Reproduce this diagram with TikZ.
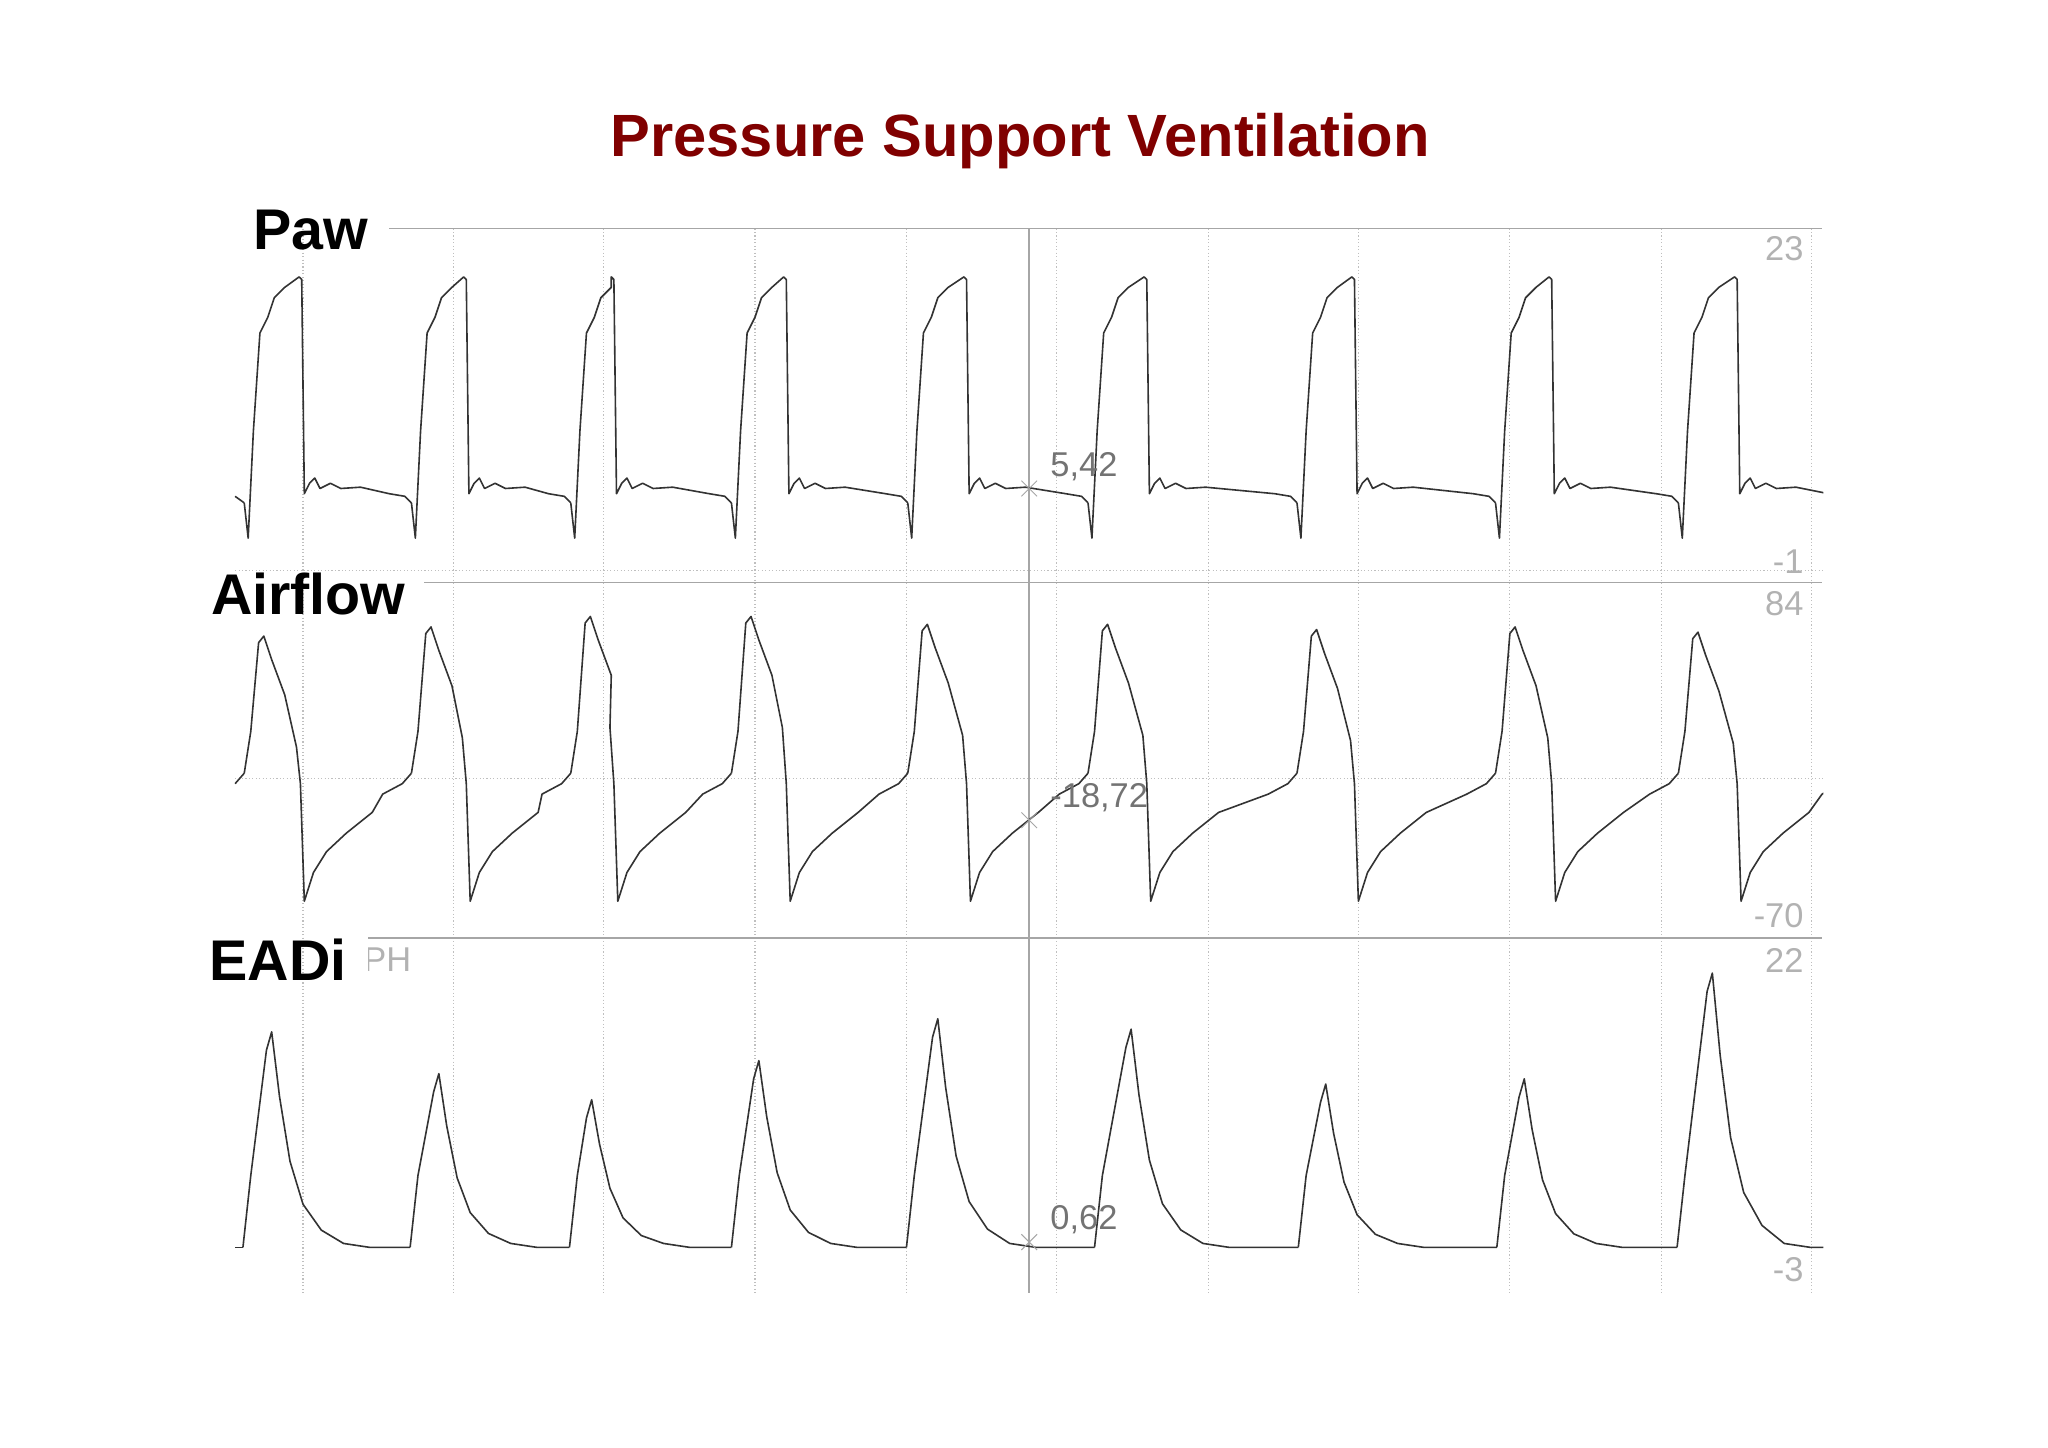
\documentclass[tikz,border=0pt]{standalone}
\usepackage{fontspec}
\setmainfont{Liberation Sans}
\begin{document}
\begin{tikzpicture}[x=0.02cm,y=-0.02cm,
  wave/.style={line width=0.7pt,black!80,line join=round},
  grid/.style={gray!50,densely dotted,line width=0.5pt},
  axis/.style={gray!70,line width=0.8pt},
  scal/.style={text=gray!60,font=\fontsize{15}{15}\selectfont},
  lab/.style={font=\fontsize{25}{25}\selectfont\bfseries},
  cur/.style={text=gray!90!black,font=\fontsize{15}{15}\selectfont}]
\useasboundingbox (0,0) rectangle (1568,1108);
\node[font=\fontsize{26}{26}\selectfont\bfseries,text={rgb,255:red,128;green,0;blue,0}] (title) at (781,108) {Pressure Support Ventilation};
% grid
\foreach \x in {232,347,462,578,694,809,925,1040,1156,1272,1387}
  \draw[grid] (\x,175) -- (\x,990);
\draw[grid] (180,437) -- (1395,437);
\draw[grid] (180,596) -- (1395,596);
\draw[axis] (298,175) -- (1395,175);
\draw[axis] (325,446) -- (1395,446);
\draw[axis] (282,718) -- (1395,718);
\draw[axis] (788,175) -- (788,990);
\node[lab] (paw) at (238,176) {Paw};
\node[lab] (air) at (236,455) {Airflow};
\begin{scope}
\clip (282,700) rectangle (330,760);
\node[scal,anchor=west] (ph) at (272,735) {PH};
\end{scope}
\node[lab] (eadi) at (213,735) {EADi};
\node[scal,anchor=east] (s1) at (1387,190) {23};
\node[scal,anchor=east] (s2) at (1387,430) {-1};
\node[scal,anchor=east] (s3) at (1387,462) {84};
\node[scal,anchor=east] (s4) at (1387,701) {-70};
\node[scal,anchor=east] (s5) at (1387,735) {22};
\node[scal,anchor=east] (s6) at (1387,972) {-3};
\begin{scope}
\clip (179,150) rectangle (1396,1000);
% Paw
\draw[wave] (180,380) -- (187,385);
\foreach \o/\e/\n in {190/231/318,318/357/440,440/470/563,563/602/698,698/740/836,836/878/996,996/1037/1148,1148/1188/1288,1288/1330/1420}
  \draw[wave] (\o-3,385) -- (\o,412) -- (\o+4,330) -- (\o+9,255) -- (\o+15,243) -- (\o+20,228) -- (\o+28,220) -- (\e-2,212) -- (\e,214) -- (\e+2,378) -- (\e+6,370) -- (\e+10,366) -- (\e+14,374) -- (\e+22,370) -- (\e+30,374) -- (\e+45,373) -- (\n-20,378) -- (\n-8,380) -- (\n-3,385);
% Airflow
\draw[wave] (180,600) -- (187,592);
\foreach \o/\e/\n/\p in {190/230/318/487,318/357/440/480,440/470/563/472,563/602/698/472,698/740/836/478,836/878/996/478,996/1037/1148/482,1148/1188/1288/480,1288/1330/1420/484}
  \draw[wave] (\o-3,592) -- (\o+2,560) -- (\o+8,\p+5) -- (\o+12,\p) -- (\o+18,\p+18) -- (\o+28,\p+45) -- (\e-3,\p+85) -- (\e,600) -- (\e+3,690) -- (\e+10,668) -- (\e+20,652) -- (\e+35,638) -- (\e+55,622) -- (\n-25,608) -- (\n-10,600) -- (\n-3,592);
% EADi
\draw[wave] (180,955) -- (186,955);
\foreach \o/\k/\v/\n in {186/208/790/314,314/336/822/436,436/453/842/560,560/581/812/694,694/718/780/838,838/866/788/994,994/1015/830/1146,1146/1167/826/1284,1284/1311/745/1420}
  \draw[wave] (\o,955) -- (\o+6,900) -- (\k-4,\v+14) -- (\k,\v) -- (\k+6,{\v+0.3*(955-\v)}) -- (\k+14,{\v+0.6*(955-\v)}) -- (\k+24,{\v+0.8*(955-\v)}) -- (\k+38,{\v+0.92*(955-\v)}) -- (\k+55,952) -- (\k+75,955) -- (\n,955);
\end{scope}
% cursor marks
\foreach \y/\t/\nm in {374/5{,}42/c1,628/-18{,}72/c2,951/0{,}62/c3}{
  \draw[gray!70] (782,\y-6) -- (794,\y+6) (782,\y+6) -- (794,\y-6);
  \node[cur,anchor=west] (\nm) at (798,\y-17) {\t};
}
\end{tikzpicture}
\end{document}
